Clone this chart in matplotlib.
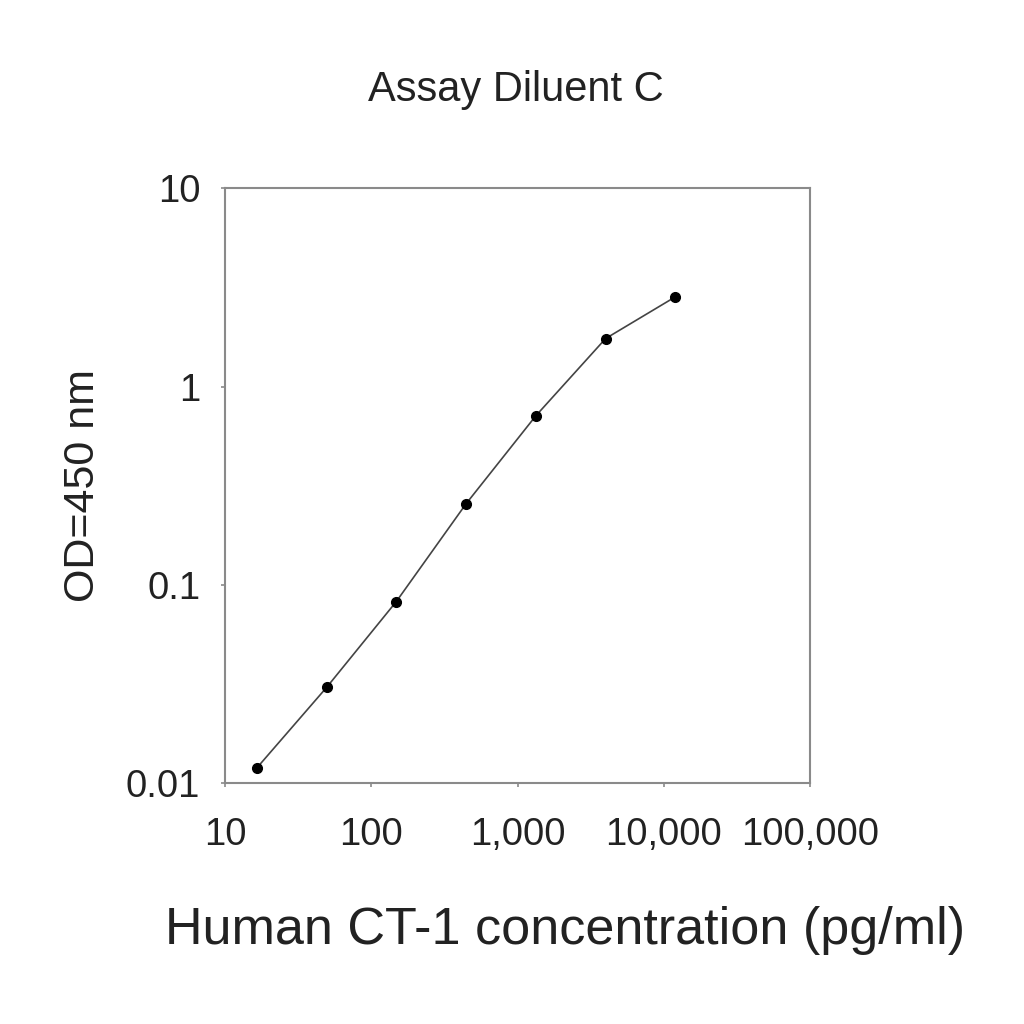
import numpy as np
import matplotlib.pyplot as plt
from matplotlib.ticker import FixedLocator, NullLocator

# Standard curve readings
conc = [16.5, 49.4, 148, 444, 1333, 4000, 12000]
od = [0.012, 0.0305, 0.0826, 0.257, 0.714, 1.75, 2.84]

xticks = [10, 100, 1000, 10000, 100000]
xticklabels = ['10', '100', '1,000', '10,000', '100,000']
yticks = [0.01, 0.1, 1, 10]
yticklabels = ['0.01', '0.1', '1', '10']

plt.rcParams['font.family'] = ['Liberation Sans', 'DejaVu Sans']

fig = plt.figure(figsize=(10.24, 10.24), dpi=100)
ax = fig.add_axes([0.22, 0.235, 0.571, 0.581])

ax.plot(conc, od, color='#444444', lw=1.2, marker='o', ms=7,
        markerfacecolor='black', markeredgecolor='black')

ax.set_xscale('log')
ax.set_yscale('log')
ax.set_xlim(10, 100000)
ax.set_ylim(0.01, 10)
ax.xaxis.set_major_locator(FixedLocator(xticks))
ax.xaxis.set_minor_locator(NullLocator())
ax.yaxis.set_major_locator(FixedLocator(yticks))
ax.yaxis.set_minor_locator(NullLocator())
ax.set_xticklabels(xticklabels)
ax.set_yticklabels(yticklabels)

for s in ax.spines.values():
    s.set_color('#8a8a8a')
    s.set_linewidth(1.5)
ax.tick_params(axis='both', length=3, width=1.2, color='#8a8a8a',
               labelsize=27.5, labelcolor='#222222')
ax.tick_params(axis='x', pad=21)
ax.tick_params(axis='y', pad=15)

ax.set_xlabel('Human CT-1 concentration (pg/ml)', fontsize=37.5, color='#222222', va='center')
ax.xaxis.set_label_coords(0.581, -0.247)
ax.set_ylabel('OD=450 nm', fontsize=31, color='#222222', va='center')
ax.yaxis.set_label_coords(-0.244, 0.5)
fig.text(0.504, 0.912, 'Assay Diluent C', ha='center', va='center', fontsize=30, color='#222222')

fig.savefig('out.png', dpi=100)
